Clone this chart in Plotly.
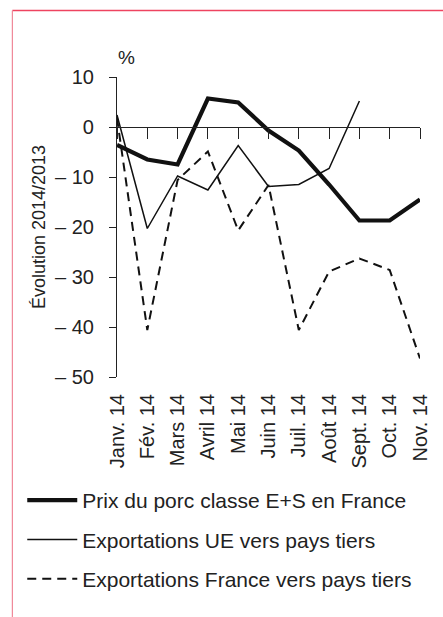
import plotly.graph_objects as go

months = ["Janv. 14", "Fév. 14", "Mars 14", "Avril 14", "Mai 14", "Juin 14",
          "Juil. 14", "Août 14", "Sept. 14", "Oct. 14", "Nov. 14"]
prix_porc = [-3.6, -6.5, -7.5, 5.7, 4.9, -0.7, -4.7, -11.5, -18.7, -18.7, -14.5]
export_ue = [2.4, -20.3, -9.8, -12.6, -3.7, -11.9, -11.5, -8.3, 5.2, None, None]
export_fr = [1.8, -40.6, -10.6, -4.9, -20.7, -11.6, -40.6, -28.9, -26.3, -28.6, -46.3]
y_ticks = [10, 0, -10, -20, -30, -40, -50]
y_tick_text = ["10", "0", "– 10", "– 20", "– 30", "– 40", "– 50"]

W, H = 443, 617
L, R, T, B = 117, 424, 77, 377
FONT = "Liberation Sans, Arial, Helvetica, sans-serif"
INK = "#222222"

def px_x(p):
    return (p - L) / (R - L)

def px_y(p):
    return (B - p) / (B - T)

idx = list(range(len(months)))

fig = go.Figure()
fig.add_trace(go.Scatter(x=idx, y=prix_porc, mode="lines", name="Prix du porc classe E+S en France",
                         line=dict(color="#111111", width=4.2), legendgroup="a"))
fig.add_trace(go.Scatter(x=idx, y=export_ue, mode="lines", name="Exportations UE vers pays tiers",
                         line=dict(color="#111111", width=1.5), legendgroup="b"))
fig.add_trace(go.Scatter(x=idx, y=export_fr, mode="lines", name="Exportations France vers pays tiers",
                         line=dict(color="#111111", width=2, dash="9px,6px"), legendgroup="c"))
# invisible trace carrying the category ticks drawn on the zero line
fig.add_trace(go.Scatter(x=idx, y=[None] * len(idx), xaxis="x2", showlegend=False, hoverinfo="skip"))

fig.update_layout(
    width=W, height=H,
    margin=dict(l=L, r=W - R, t=T, b=H - B, pad=0),
    paper_bgcolor="white", plot_bgcolor="white",
    font=dict(family=FONT, size=20, color=INK),
    xaxis=dict(range=[0, len(months) - 1], tickmode="array", tickvals=idx, ticktext=months,
               tickangle=-90, ticks="", showline=False, showgrid=False, zeroline=False,
               tickfont=dict(family=FONT, size=20, color=INK), ticklabelstandoff=12),
    xaxis2=dict(range=[0, len(months) - 1], overlaying="x", anchor="free", position=50 / 60,
                tickmode="array", tickvals=idx, showticklabels=False, ticks="outside", ticklen=11,
                tickwidth=1.2, tickcolor=INK, showline=True, linecolor=INK, linewidth=1.2,
                showgrid=False, zeroline=False),
    yaxis=dict(range=[-50, 10], tickmode="array", tickvals=y_ticks, ticktext=y_tick_text,
               ticks="outside", ticklen=7, tickwidth=1.2, tickcolor=INK,
               showline=True, linecolor=INK, linewidth=1.2, showgrid=False, zeroline=False,
               tickfont=dict(size=20, color=INK), ticklabelstandoff=11,
               title=dict(text="Évolution 2014/2013", font=dict(size=18, color=INK), standoff=4)),
    showlegend=True,
    legend=dict(x=px_x(21), y=px_y(480), xanchor="left", yanchor="top", itemwidth=50,
                font=dict(size=21, color=INK), tracegroupgap=9, traceorder="grouped",
                bgcolor="rgba(0,0,0,0)"),
    annotations=[dict(text="%", x=px_x(127), y=px_y(57), xref="paper", yref="paper",
                      xanchor="center", yanchor="middle",
                      showarrow=False, font=dict(size=19, color=INK))],
    shapes=[
        dict(type="line", xref="paper", yref="paper", x0=px_x(11), x1=px_x(450), y0=px_y(10.5), y1=px_y(10.5),
             line=dict(color="#EE4460", width=1.5)),
        dict(type="line", xref="paper", yref="paper", x0=px_x(11), x1=px_x(11), y0=px_y(10.5), y1=px_y(630),
             line=dict(color="#F08898", width=1.2)),
    ],
)

fig.write_html("out.html", config={"displayModeBar": False},
               post_script="document.body.style.margin='0';document.body.style.overflow='hidden';")
